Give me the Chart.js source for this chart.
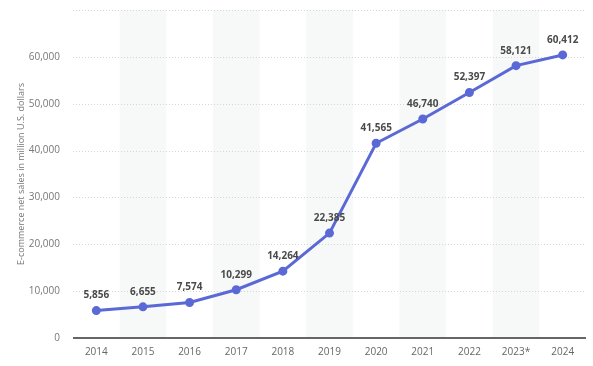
<!DOCTYPE html>
<html>
<head>
<meta charset="utf-8">
<script src="https://cdn.jsdelivr.net/npm/chart.js@4.4.1/dist/chart.umd.min.js"></script>
<style>
html,body{margin:0;padding:0;background:#fff;}
#wrap{width:593px;height:366px;position:relative;}
</style>
</head>
<body>
<div id="wrap"><canvas id="c" width="593" height="366"></canvas></div>
<script>
const categories = ['2014','2015','2016','2017','2018','2019','2020','2021','2022','2023*','2024'];
const salesValues = [5856, 6655, 7574, 10299, 14264, 22385, 41565, 46740, 52397, 58121, 60412];
const yTickValues = [0, 10000, 20000, 30000, 40000, 50000, 60000, 70000];
const yAxisTitle = 'E-commerce net sales in million U.S. dollars';

const FONT = "'Open Sans', 'DejaVu Sans', sans-serif";
const fmt = v => v.toLocaleString('en-US');

const bandPlugin = {
  id: 'bands',
  beforeDatasetsDraw(chart) {
    const {ctx, chartArea, scales} = chart;
    const x = scales.x;
    const step = x.getPixelForValue(1) - x.getPixelForValue(0);
    ctx.save();
    ctx.fillStyle = '#f7f8f8';
    categories.forEach((c, i) => {
      if (i % 2 === 1) {
        const cx = x.getPixelForValue(i);
        ctx.fillRect(cx - step / 2, chartArea.top, step, chartArea.bottom - chartArea.top);
      }
    });
    ctx.restore();
  }
};

const gridRedraw = {
  id: 'gridRedraw',
  beforeDatasetsDraw(chart) {
    const {ctx, chartArea, scales} = chart;
    const y = scales.y;
    ctx.save();
    ctx.strokeStyle = '#d6d6d6';
    ctx.lineWidth = 1;
    ctx.setLineDash([1, 2]);
    yTickValues.forEach(v => {
      if (v === 0) return;
      const py = Math.round(y.getPixelForValue(v)) + 0.5;
      ctx.beginPath();
      ctx.moveTo(chartArea.left, py);
      ctx.lineTo(chartArea.right, py);
      ctx.stroke();
    });
    ctx.setLineDash([]);
    ctx.strokeStyle = '#666666';
    ctx.lineWidth = 2;
    const p0 = Math.round(y.getPixelForValue(0));
    ctx.beginPath();
    ctx.moveTo(chartArea.left, p0);
    ctx.lineTo(chartArea.right, p0);
    ctx.stroke();
    ctx.restore();
  }
};

const labelPlugin = {
  id: 'valueLabels',
  afterDatasetsDraw(chart) {
    const {ctx} = chart;
    const meta = chart.getDatasetMeta(0);
    ctx.save();
    ctx.font = "bold 10px " + FONT;
    ctx.fillStyle = '#4a4a4a';
    ctx.textAlign = 'center';
    ctx.textBaseline = 'middle';
    meta.data.forEach((pt, i) => {
      ctx.fillText(fmt(salesValues[i]), pt.x, pt.y - 15);
    });
    ctx.restore();
  }
};

const titlePlugin = {
  id: 'yTitle',
  afterDraw(chart) {
    const {ctx, chartArea} = chart;
    ctx.save();
    ctx.translate(21, (chartArea.top + chartArea.bottom) / 2);
    ctx.rotate(-Math.PI / 2);
    ctx.font = "9px " + FONT;
    ctx.fillStyle = '#777777';
    ctx.textAlign = 'center';
    ctx.textBaseline = 'middle';
    ctx.fillText(yAxisTitle, 0, 0);
    ctx.restore();
  }
};

new Chart(document.getElementById('c'), {
  type: 'line',
  data: {
    labels: categories,
    datasets: [{
      data: salesValues,
      borderColor: '#5a69d6',
      backgroundColor: '#5a69d6',
      borderWidth: 3,
      pointRadius: 3,
      pointHoverRadius: 3,
      tension: 0,
      clip: false
    }]
  },
  options: {
    responsive: false,
    animation: false,
    devicePixelRatio: 1,
    layout: {padding: {left: 0, right: 7, top: 10, bottom: 0}},
    plugins: {legend: {display: false}, tooltip: {enabled: false}},
    scales: {
      x: {
        offset: true,
        grid: {display: false, drawTicks: false},
        border: {display: false},
        ticks: {color: '#666666', font: {family: FONT, size: 10}, padding: 8, maxRotation: 0},
        afterFit(s) { s.height = 28; s.paddingLeft = 0; s.paddingRight = 0; }
      },
      y: {
        min: 0, max: 70000,
        grid: {display: false, drawTicks: false},
        border: {display: false},
        afterBuildTicks(s) { s.ticks = yTickValues.map(v => ({value: v})); },
        ticks: {
          color: '#777777', font: {family: FONT, size: 10}, padding: 13,
          callback: v => v === 70000 ? '' : fmt(v)
        },
        afterFit(s) { s.width = 73; s.paddingTop = 0; s.paddingBottom = 0; }
      }
    }
  },
  plugins: [bandPlugin, gridRedraw, labelPlugin, titlePlugin]
});
</script>
</body>
</html>
